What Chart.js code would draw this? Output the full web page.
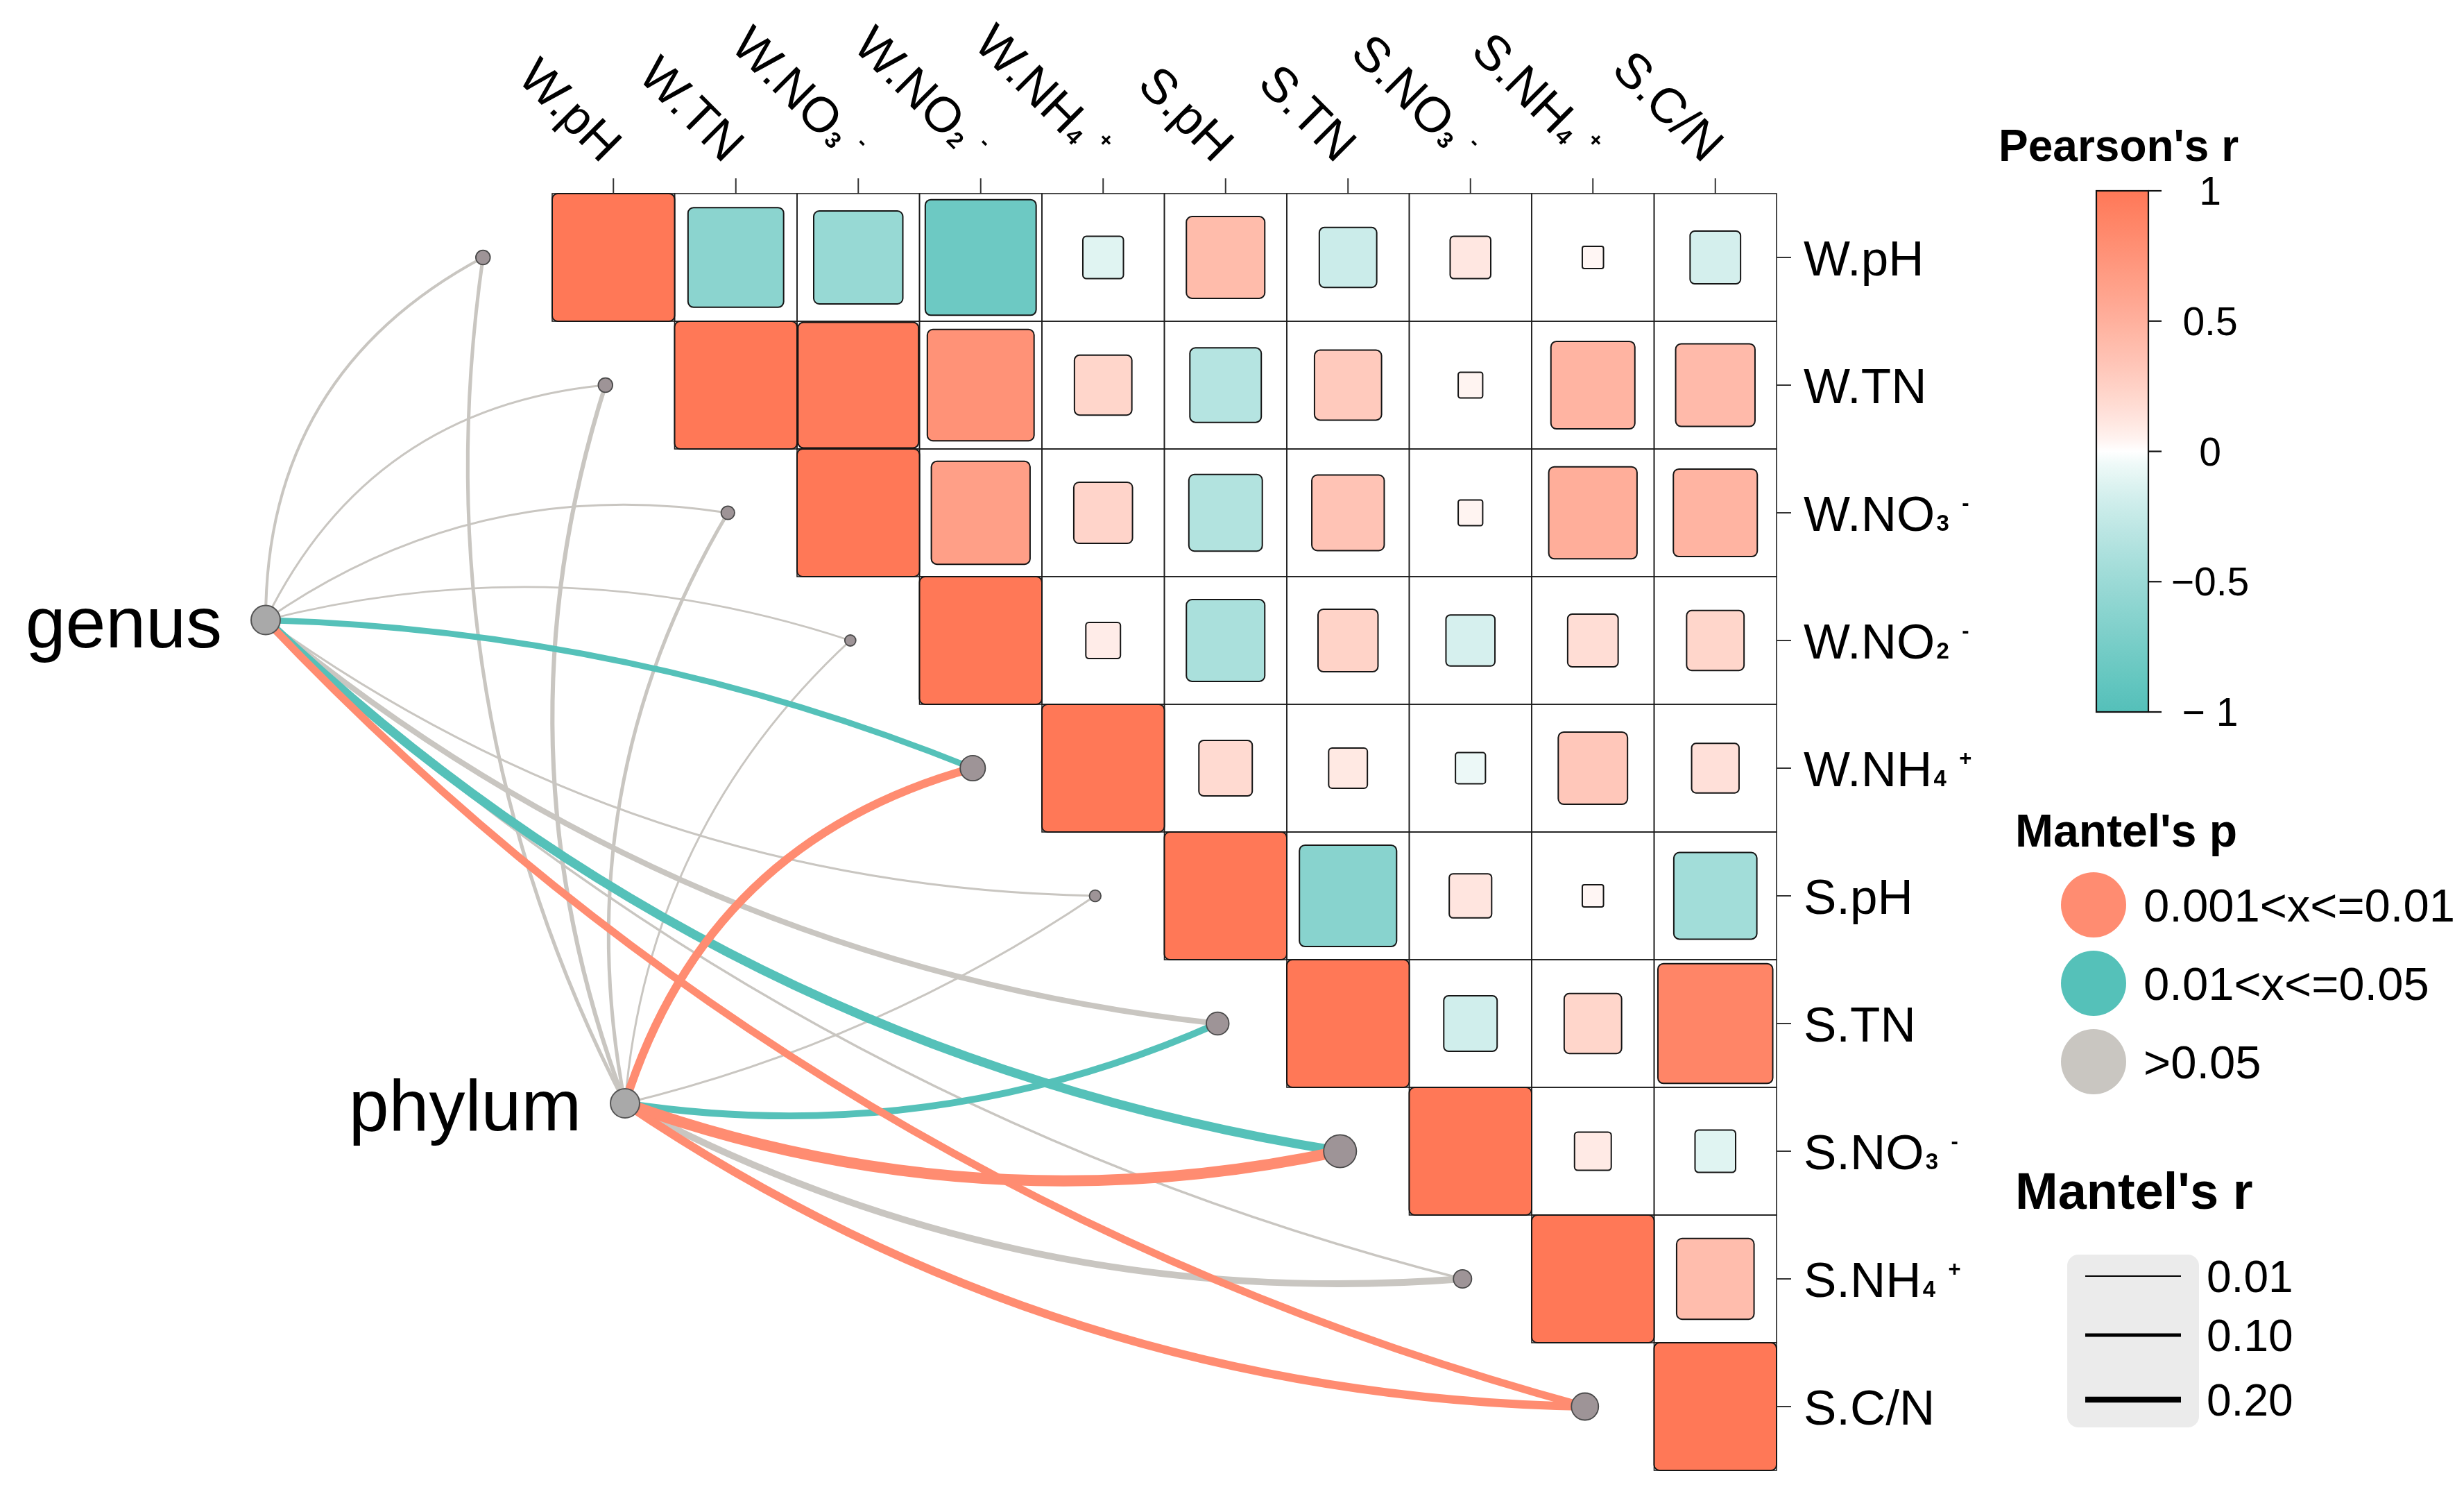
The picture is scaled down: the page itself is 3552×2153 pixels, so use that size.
<!DOCTYPE html>
<html>
<head>
<meta charset="utf-8">
<script src="https://cdn.jsdelivr.net/npm/chart.js@4.4.1/dist/chart.umd.min.js"></script>
<style>
html,body{margin:0;padding:0;background:#ffffff;overflow:hidden}
canvas{display:block}
</style>
</head>
<body>
<canvas id="c" width="3552" height="2153" style="width:3552px;height:2153px"></canvas>
<script>
// ---------------- DATA ----------------
const variables = ["W.pH","W.TN","W.NO₃⁻","W.NO₂⁻","W.NH₄⁺","S.pH","S.TN","S.NO₃⁻","S.NH₄⁺","S.C/N"];

// Pearson's r, upper triangle (row i, column j >= i)
const pearsonR = [
  [1, -0.61, -0.53, -0.82, -0.11,  0.41, -0.22,  0.11,  0.03, -0.17],
  [null, 1,   0.97,  0.76,  0.22, -0.34,  0.30,  0.04,  0.47,  0.42],
  [null, null, 1,    0.65,  0.23, -0.36,  0.35,  0.04,  0.52,  0.47],
  [null, null, null, 1,     0.08, -0.41,  0.24, -0.16,  0.17,  0.22],
  [null, null, null, null,  1,     0.19,  0.10, -0.06,  0.32,  0.15],
  [null, null, null, null,  null,  1,    -0.63,  0.12,  0.03, -0.46],
  [null, null, null, null,  null,  null,  1,    -0.19,  0.22,  0.88],
  [null, null, null, null,  null,  null,  null,  1,     0.09, -0.11],
  [null, null, null, null,  null,  null,  null,  null,  1,     0.40],
  [null, null, null, null,  null,  null,  null,  null,  null,  1]
];

const specNames = ["genus", "phylum"];
// Mantel's r of each spec vs each environment variable (same order as variables)
const mantelRGenus  = [0.07, 0.04, 0.04, 0.025, 0.21, 0.04, 0.19, 0.33, 0.05, 0.27];
const mantelRPhylum = [0.10, 0.13, 0.10, 0.04,  0.30, 0.04, 0.24, 0.42, 0.24, 0.30];
// Mantel's p class: "p01" = 0.001<x<=0.01, "p05" = 0.01<x<=0.05, "ns" = >0.05
const mantelPGenus  = ["ns","ns","ns","ns","p05","ns","ns","p05","ns","p01"];
const mantelPPhylum = ["ns","ns","ns","ns","p01","ns","p05","p01","ns","p01"];

const colorbarTicks = [1, 0.5, 0, -0.5, -1];
const colorbarTickLabels = ["1", "0.5", "0", "−0.5", "− 1"];
const pLegendClasses = ["p01", "p05", "ns"];
const pLegendLabels = ["0.001<x<=0.01", "0.01<x<=0.05", ">0.05"];
const rLegendValues = [0.01, 0.10, 0.20];
const rLegendLabels = ["0.01", "0.10", "0.20"];

// ---------------- LAYOUT / STYLE ----------------
const specLayout = [{x: -1.84, y: 3.84}, {x: 1.095, y: 7.625}];   // spec node anchors (data units)
const nodeNudge = 0.065;
const bendGenus  = [0.15, 0.14, 0.10, 0.073, 0.045, -0.078, -0.075, -0.078, -0.065, -0.07];
const bendPhylum = [0.08, 0.087, 0.095, 0.097, 0.136, -0.045, -0.073, -0.071, -0.073, -0.074];

const FONT = '"Liberation Sans", Arial, Helvetica, sans-serif';
const HIGH = [255, 120, 87], LOW = [84, 192, 185];
const P_COLORS = {p01: '#FF8C71', p05: '#55C1B9', ns: '#C9C6C1'};

function rColor(r) {
  const c = r >= 0 ? HIGH : LOW;
  const t = Math.pow(Math.min(1, Math.abs(r)), 0.78);
  const m = (a) => Math.round(255 + (a - 255) * t);
  return `rgb(${m(c[0])},${m(c[1])},${m(c[2])})`;
}
function lineW(r) { return 1.66 + 34.2 * r; }

function roundRect(ctx, x, y, w, h, rad) {
  rad = Math.min(rad, w / 2, h / 2);
  ctx.beginPath();
  ctx.moveTo(x + rad, y);
  ctx.arcTo(x + w, y, x + w, y + h, rad);
  ctx.arcTo(x + w, y + h, x, y + h, rad);
  ctx.arcTo(x, y + h, x, y, rad);
  ctx.arcTo(x, y, x + w, y, rad);
  ctx.closePath();
}

function parseRich(s) {
  const sub = {'₀':'0','₁':'1','₂':'2','₃':'3','₄':'4','₅':'5','₆':'6','₇':'7','₈':'8','₉':'9'};
  const sup = {'⁺':'+','⁻':'-'};
  const parts = [];
  for (const ch of s) {
    let kind = 'n', t = ch;
    if (sub[ch]) { kind = 'sub'; t = sub[ch]; }
    else if (sup[ch]) { kind = 'sup'; t = sup[ch]; }
    const last = parts[parts.length - 1];
    if (last && last.kind === kind) last.t += t; else parts.push({kind, t});
  }
  return parts;
}
function drawRich(ctx, s, x, y, size, align) {
  const items = []; let w = 0;
  for (const p of parseRich(s)) {
    let f, dy = 0, gap = 0;
    if (p.kind === 'n') f = `${size}px ${FONT}`;
    else if (p.kind === 'sub') { f = `bold ${Math.round(size * 0.46)}px ${FONT}`; gap = size * 0.03; }
    else { f = `bold ${Math.round(size * 0.44)}px ${FONT}`; dy = -size * 0.42; gap = size * 0.26; }
    ctx.font = f;
    const tw = ctx.measureText(p.t).width;
    items.push({t: p.t, f, dy, x: w + gap});
    w += gap + tw;
  }
  const x0 = align === 'right' ? x - w : x;
  ctx.textAlign = 'left';
  ctx.textBaseline = 'alphabetic';
  for (const it of items) { ctx.font = it.f; ctx.fillText(it.t, x0 + it.x, y + it.dy); }
}

const nEnv = variables.length;
const envNodes = variables.map((v, i) => ({x: i - nodeNudge, y: i + 1}));
const nodeRadii = variables.map((v, i) => 6.5 + 22.8 * (mantelRGenus[i] + mantelRPhylum[i]));

// ---------------- PLUGIN ----------------
const corrPlugin = {
  id: 'corrPlugin',
  beforeDatasetsDraw(chart) {
    const ctx = chart.ctx, xs = chart.scales.x, ys = chart.scales.y;
    const cw = Math.abs(xs.getPixelForValue(1.5) - xs.getPixelForValue(0.5));
    const ch = Math.abs(ys.getPixelForValue(1.5) - ys.getPixelForValue(0.5));
    const gridTop = ys.getPixelForValue(0.5), gridRight = xs.getPixelForValue(nEnv + 0.5);
    ctx.save();
    // white cells
    for (let i = 0; i < nEnv; i++) for (let j = i; j < nEnv; j++) {
      const cx = xs.getPixelForValue(j + 1), cy = ys.getPixelForValue(i + 1);
      ctx.fillStyle = '#ffffff';
      ctx.fillRect(cx - cw / 2, cy - ch / 2, cw, ch);
    }
    // grid
    ctx.strokeStyle = '#1e1e1e'; ctx.lineWidth = 1.6;
    for (let i = 0; i < nEnv; i++) for (let j = i; j < nEnv; j++) {
      const cx = xs.getPixelForValue(j + 1), cy = ys.getPixelForValue(i + 1);
      ctx.strokeRect(cx - cw / 2, cy - ch / 2, cw, ch);
    }
    // squares
    for (let i = 0; i < nEnv; i++) for (let j = i; j < nEnv; j++) {
      const r = pearsonR[i][j];
      if (r === null) continue;
      const cx = xs.getPixelForValue(j + 1), cy = ys.getPixelForValue(i + 1);
      const s = Math.sqrt(Math.abs(r));
      const w = cw * s, h = ch * s;
      roundRect(ctx, cx - w / 2, cy - h / 2, w, h, Math.max(3, Math.min(8, w * 0.09)));
      ctx.fillStyle = rColor(r); ctx.fill();
      ctx.strokeStyle = '#151515'; ctx.lineWidth = 2; ctx.stroke();
    }
    // ticks
    ctx.strokeStyle = '#333'; ctx.lineWidth = 2;
    for (let k = 0; k < nEnv; k++) {
      const cx = xs.getPixelForValue(k + 1);
      ctx.beginPath(); ctx.moveTo(cx, gridTop - 22); ctx.lineTo(cx, gridTop); ctx.stroke();
      const cy = ys.getPixelForValue(k + 1);
      ctx.beginPath(); ctx.moveTo(gridRight, cy); ctx.lineTo(gridRight + 21, cy); ctx.stroke();
    }
    // axis labels
    ctx.fillStyle = '#000';
    for (let k = 0; k < nEnv; k++) {
      const cy = ys.getPixelForValue(k + 1);
      drawRich(ctx, variables[k], gridRight + 39, cy + 26, 71, 'left');
      const cx = xs.getPixelForValue(k + 1);
      ctx.save();
      ctx.translate(cx, gridTop - 60);
      ctx.rotate(Math.PI / 4);
      drawRich(ctx, variables[k], 0, 25, 71, 'right');
      ctx.restore();
    }
    // edges
    const specs = [
      {pos: specLayout[0], r: mantelRGenus, p: mantelPGenus, bend: bendGenus},
      {pos: specLayout[1], r: mantelRPhylum, p: mantelPPhylum, bend: bendPhylum}
    ];
    const edges = [];
    specs.forEach(sp => {
      for (let k = 0; k < nEnv; k++) edges.push({sp, k});
    });
    const order = {ns: 0, p05: 1, p01: 2};
    edges.sort((a, b) => order[a.sp.p[a.k]] - order[b.sp.p[b.k]]);
    ctx.lineCap = 'butt';
    for (const e of edges) {
      const {sp, k} = e;
      const x0 = xs.getPixelForValue(sp.pos.x), y0 = ys.getPixelForValue(sp.pos.y);
      const x1 = xs.getPixelForValue(envNodes[k].x), y1 = ys.getPixelForValue(envNodes[k].y);
      const dx = x1 - x0, dy = y1 - y0, L = Math.hypot(dx, dy);
      const nx = dy / L, ny = -dx / L;
      const off = 2 * sp.bend[k] * L;
      const qx = (x0 + x1) / 2 + nx * off, qy = (y0 + y1) / 2 + ny * off;
      ctx.beginPath(); ctx.moveTo(x0, y0); ctx.quadraticCurveTo(qx, qy, x1, y1);
      ctx.strokeStyle = P_COLORS[sp.p[k]]; ctx.lineWidth = lineW(sp.r[k]); ctx.stroke();
    }
    ctx.restore();
  },
  afterDraw(chart) {
    const ctx = chart.ctx, xs = chart.scales.x, ys = chart.scales.y;
    ctx.save();
    ctx.fillStyle = '#000';
    // spec labels
    ctx.font = `104px ${FONT}`; ctx.textAlign = 'right'; ctx.textBaseline = 'alphabetic';
    specNames.forEach((n, i) => {
      const x = xs.getPixelForValue(specLayout[i].x), y = ys.getPixelForValue(specLayout[i].y);
      ctx.fillText(n, x - 63, y + 39);
    });
    // Pearson's r colorbar
    ctx.textAlign = 'left';
    ctx.font = `bold 64px ${FONT}`;
    ctx.fillText("Pearson's r", 2881, 232);
    const cbL = 3022, cbR = 3097, cbT = 275, cbB = 1026;
    const grad = ctx.createLinearGradient(0, cbT, 0, cbB);
    for (let s = 0; s <= 40; s++) { const v = 1 - s / 20; grad.addColorStop(s / 40, rColor(v)); }
    ctx.fillStyle = grad; ctx.fillRect(cbL, cbT, cbR - cbL, cbB - cbT);
    ctx.strokeStyle = '#111'; ctx.lineWidth = 2.2; ctx.strokeRect(cbL, cbT, cbR - cbL, cbB - cbT);
    ctx.fillStyle = '#000'; ctx.font = `57px ${FONT}`; ctx.textAlign = 'center';
    colorbarTicks.forEach((v, i) => {
      const y = cbT + (1 - v) / 2 * (cbB - cbT);
      ctx.beginPath(); ctx.moveTo(cbR, y); ctx.lineTo(cbR + 19, y); ctx.stroke();
      ctx.fillText(colorbarTickLabels[i], 3186, y + 20);
    });
    // Mantel's p legend
    ctx.textAlign = 'left';
    ctx.font = `bold 66px ${FONT}`;
    ctx.fillText("Mantel's p", 2905, 1220);
    pLegendClasses.forEach((c, i) => {
      const y = 1304 + i * 113;
      ctx.beginPath(); ctx.arc(3018, y, 47, 0, Math.PI * 2);
      ctx.fillStyle = P_COLORS[c]; ctx.fill();
      ctx.fillStyle = '#000'; ctx.font = `67px ${FONT}`;
      ctx.fillText(pLegendLabels[i], 3090, y + 24);
    });
    // Mantel's r legend
    ctx.font = `bold 74px ${FONT}`;
    ctx.fillText("Mantel's r", 2905, 1742);
    roundRect(ctx, 2980, 1808, 190, 249, 16);
    ctx.fillStyle = '#EBEBEB'; ctx.fill();
    const ly = [1839, 1924, 2017];
    rLegendValues.forEach((v, i) => {
      ctx.beginPath(); ctx.moveTo(3006, ly[i]); ctx.lineTo(3144, ly[i]);
      ctx.strokeStyle = '#000'; ctx.lineWidth = lineW(v); ctx.stroke();
      ctx.fillStyle = '#000'; ctx.font = `64px ${FONT}`;
      ctx.fillText(rLegendLabels[i], 3181, ly[i] + 23);
    });
    ctx.restore();
  }
};

new Chart(document.getElementById('c'), {
  type: 'scatter',
  data: {
    datasets: [
      {
        label: 'env',
        data: envNodes,
        pointRadius: nodeRadii,
        pointHoverRadius: nodeRadii,
        backgroundColor: '#9E9497',
        borderColor: '#4a4a4a',
        borderWidth: 1.8,
        clip: false
      },
      {
        label: 'spec',
        data: specLayout,
        pointRadius: 21,
        pointHoverRadius: 21,
        backgroundColor: '#A9A9A9',
        borderColor: '#555555',
        borderWidth: 2,
        clip: false
      }
    ]
  },
  options: {
    responsive: false,
    devicePixelRatio: 1,
    animation: false,
    events: [],
    layout: {padding: {left: 266.5, right: 991, top: 279, bottom: 34}},
    scales: {
      x: {type: 'linear', min: -2.5, max: 10.5, display: false},
      y: {type: 'linear', min: 0.5, max: 10.5, reverse: true, display: false}
    },
    plugins: {legend: {display: false}, tooltip: {enabled: false}, title: {display: false}}
  },
  plugins: [corrPlugin]
});
</script>
</body>
</html>
